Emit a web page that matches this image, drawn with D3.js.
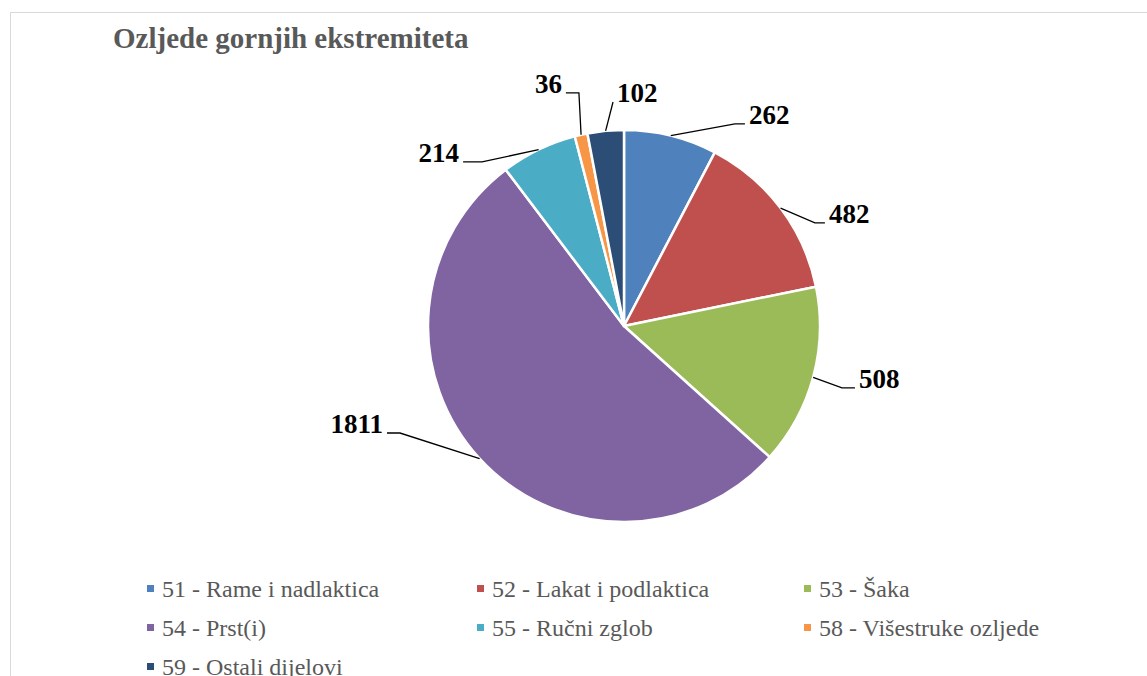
<!DOCTYPE html>
<html>
<head>
<meta charset="utf-8">
<script src="https://cdn.jsdelivr.net/npm/d3@7"></script>
<style>
  body { margin: 0; background: #fff; }
</style>
</head>
<body>
<div class="chart"></div>
<script>
// data
const title = "Ozljede gornjih ekstremiteta";
const categories = ["51 - Rame i nadlaktica", "52 - Lakat i podlaktica", "53 - Šaka",
                    "54 - Prst(i)", "55 - Ručni zglob", "58 - Višestruke ozljede", "59 - Ostali dijelovi"];
const values = [262, 482, 508, 1811, 214, 36, 102];
const colors = ["#4F81BD", "#C0504D", "#9BBB59", "#8064A2", "#4BACC6", "#F79646", "#2C4D75"];

// label placement (elbow point in radius units, side, horizontal tick length)
const labelPlace = [
  [0.566, -1.031, 1, 10],
  [0.974, -0.526, 1, 10],
  [1.112, 0.316, 1, 13],
  [-1.143, 0.546, -1, 13],
  [-0.724, -0.837, -1, 19],
  [-0.230, -1.189, -1, 13],
  [-0.056, -1.143, 1, 0]
];

const width = 1147;
const height = 676;
const cx = 624, cy = 326, R = 196;

const svg = d3.select('.chart')
  .append('svg')
  .attr('width', width)
  .attr('height', height)
  .style('font-family', '"Liberation Serif", "Times New Roman", serif');

svg.append('rect')
  .attr('x', 10.5).attr('y', 12.5)
  .attr('width', width).attr('height', height)
  .attr('fill', 'none')
  .attr('stroke', '#d9d9d9');

svg.append('text')
  .attr('x', 113).attr('y', 48)
  .attr('fill', '#595959')
  .attr('font-size', 29)
  .attr('font-weight', 'bold')
  .text(title);

const pie = d3.pie().sort(null).value(d => d)
  .startAngle(0).endAngle(2 * Math.PI);
const arcs = pie(values);
const arc = d3.arc().innerRadius(0).outerRadius(R);
const edge = d3.arc().innerRadius(R).outerRadius(R);

const g = svg.append('g').attr('transform', `translate(${cx},${cy})`);

g.selectAll('path.slice')
  .data(arcs)
  .join('path')
  .attr('class', 'slice')
  .attr('d', arc)
  .attr('fill', (d, i) => colors[i])
  .attr('stroke', '#fff')
  .attr('stroke-width', 2.5)
  .attr('stroke-linejoin', 'round');

// leader lines + labels
const rx = d3.scaleLinear().domain([0, 1]).range([0, R]);

g.selectAll('path.leader')
  .data(arcs)
  .join('path')
  .attr('class', 'leader')
  .attr('fill', 'none')
  .attr('stroke', '#000')
  .attr('stroke-width', 1.3)
  .attr('d', (d, i) => {
    const [sx, sy] = edge.centroid(d);
    const p = labelPlace[i];
    const ex = rx(p[0]), ey = rx(p[1]);
    return d3.line()([[sx, sy], [ex, ey], [ex + p[2] * p[3], ey]]);
  });

g.selectAll('text.lbl')
  .data(arcs)
  .join('text')
  .attr('class', 'lbl')
  .attr('x', (d, i) => {
    const p = labelPlace[i];
    return rx(p[0]) + p[2] * (p[3] + 4);
  })
  .attr('y', (d, i) => rx(labelPlace[i][1]))
  .attr('text-anchor', (d, i) => labelPlace[i][2] > 0 ? 'start' : 'end')
  .attr('font-size', 27)
  .attr('font-weight', 'bold')
  .attr('fill', '#000')
  .text(d => d.data);

// legend
const col = d3.scaleOrdinal().domain([0, 1, 2]).range([147, 477, 804]);
const row = d3.scaleLinear().domain([0, 1]).range([597, 636]);

const leg = svg.selectAll('g.leg')
  .data(categories)
  .join('g')
  .attr('class', 'leg')
  .attr('transform', (d, i) => `translate(${col(i % 3)},${row(Math.floor(i / 3))})`);

leg.append('rect')
  .attr('x', 0).attr('y', -12)
  .attr('width', 7).attr('height', 7)
  .attr('fill', (d, i) => colors[i]);

leg.append('text')
  .attr('x', 15).attr('y', 0)
  .attr('font-size', 24)
  .attr('fill', '#595959')
  .text(d => d);
</script>
</body>
</html>
